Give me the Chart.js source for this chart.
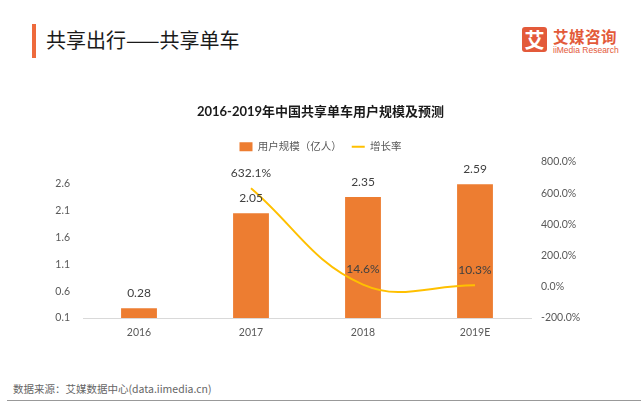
<!DOCTYPE html>
<html><head><meta charset="utf-8">
<script src="https://cdn.jsdelivr.net/npm/chart.js@4/dist/chart.umd.min.js"></script>
<style>
html,body{margin:0;padding:0;background:#fff;width:641px;height:403px;overflow:hidden;font-family:"Noto Sans CJK SC",sans-serif;}
#bar{position:absolute;left:32px;top:24px;width:4px;height:34px;background:#EE6A3C;}
#head{position:absolute;left:46px;top:26px;font-size:20px;line-height:28px;color:#1a1a1a;font-weight:400;}
#logo{position:absolute;left:522px;top:27px;width:25px;height:25px;background:#E35A3A;border-radius:3px;color:#fff;font-size:20px;line-height:25px;text-align:center;font-weight:700;}
#logo1{position:absolute;left:553px;top:27px;font-size:15.5px;line-height:18px;color:#E35A3A;font-weight:700;letter-spacing:0.5px;}
#logo2{position:absolute;left:553px;top:45px;font-size:8.5px;line-height:10px;color:#E35A3A;font-family:"Liberation Sans Narrow","Liberation Sans",sans-serif;}
#foot{position:absolute;left:13px;top:381px;font-size:10.5px;line-height:16px;color:#666;}
#line{position:absolute;left:7px;top:400px;width:634px;height:1px;background:#999;}
#wrap{position:absolute;left:0;top:95px;width:641px;height:248px;}
</style></head>
<body>
<div id="bar"></div>
<div id="head">共享出行——共享单车</div>
<div id="logo">艾</div>
<div id="logo1">艾媒咨询</div>
<div id="logo2">iiMedia Research</div>
<div id="wrap"><canvas id="c" width="641" height="248"></canvas></div>
<div id="foot">数据来源：艾媒数据中心(data.iimedia.cn)</div>
<div id="line"></div>
<script>
const categories = ['2016', '2017', '2018', '2019E'];
const users = [0.28, 2.05, 2.35, 2.59];
const growth = [null, 632.1, 14.6, 10.3];
const leftTicks = [0.1, 0.6, 1.1, 1.6, 2.1, 2.6];
const rightTicks = [-200, 0, 200, 400, 600, 800];

const FONT = "Lato, 'Noto Sans CJK SC', sans-serif";

const labelPlugin = {
  id: 'valueLabels',
  afterDatasetsDraw(chart) {
    const ctx = chart.ctx;
    ctx.save();
    ctx.font = "12px " + FONT;
    ctx.fillStyle = '#404040';
    ctx.textAlign = 'center';
    ctx.textBaseline = 'middle';
    chart.data.datasets.forEach((ds, di) => {
      const meta = chart.getDatasetMeta(di);
      meta.data.forEach((el, i) => {
        const v = ds.data[i];
        if (v === null || v === undefined) return;
        const txt = ds.type === 'bar' ? v.toFixed(2) : v.toFixed(1) + '%';
        ctx.fillText(txt, el.x, el.y - 15);
      });
    });
    ctx.restore();
  }
};

new Chart(document.getElementById('c'), {
  data: {
    labels: categories,
    datasets: [
      {
        type: 'bar', label: '用户规模（亿人）', data: users, yAxisID: 'y',
        backgroundColor: '#ED7D31', borderWidth: 0, order: 2,
        barPercentage: 0.64, categoryPercentage: 0.5, pointStyle: 'rect'
      },
      {
        type: 'line', label: '增长率', data: growth, yAxisID: 'y1',
        borderColor: '#FFC000', backgroundColor: '#FFC000', borderWidth: 2,
        pointRadius: 0, pointHoverRadius: 0, tension: 0.4, order: 1,
        pointStyle: 'line', spanGaps: false
      }
    ]
  },
  options: {
    responsive: false,
    animation: false,
    layout: { padding: 0 },
    plugins: {
      title: {
        display: true,
        text: '2016-2019年中国共享单车用户规模及预测',
        font: { family: FONT, size: 13, weight: 'bold' },
        color: '#1a1a1a',
        padding: { top: 9, bottom: 12 }
      },
      legend: {
        display: true,
        labels: {
          usePointStyle: true, pointStyleWidth: 13, boxHeight: 9,
          font: { family: FONT, size: 10.5 }, color: '#595959', padding: 10,
          sort: (a, b) => a.datasetIndex - b.datasetIndex
        }
      },
      tooltip: { enabled: false }
    },
    scales: {
      x: {
        grid: { display: false, drawTicks: false },
        border: { display: true, color: '#d9d9d9', width: 1 },
        ticks: { font: { family: FONT, size: 10.5 }, color: '#595959', padding: 8 },
        afterFit(s) { s.height = 25; }
      },
      y: {
        position: 'left', min: 0.1, max: 3.0,
        grid: { display: false, drawTicks: false },
        border: { display: false },
        afterBuildTicks(s) { s.ticks = leftTicks.map(v => ({ value: v })); },
        ticks: { font: { family: FONT, size: 10.5 }, color: '#595959', padding: 13,
          callback: v => Number(v).toFixed(1) },
        afterFit(s) { s.width = 83; }
      },
      y1: {
        position: 'right', min: -200, max: 800,
        grid: { display: false, drawTicks: false },
        border: { display: false },
        afterBuildTicks(s) { s.ticks = rightTicks.map(v => ({ value: v })); },
        ticks: { font: { family: FONT, size: 10.5 }, color: '#595959', padding: 10,
          callback: v => Number(v).toFixed(1) + '%' },
        afterFit(s) { s.width = 110; }
      }
    }
  },
  plugins: [labelPlugin]
});
</script>
</body></html>
